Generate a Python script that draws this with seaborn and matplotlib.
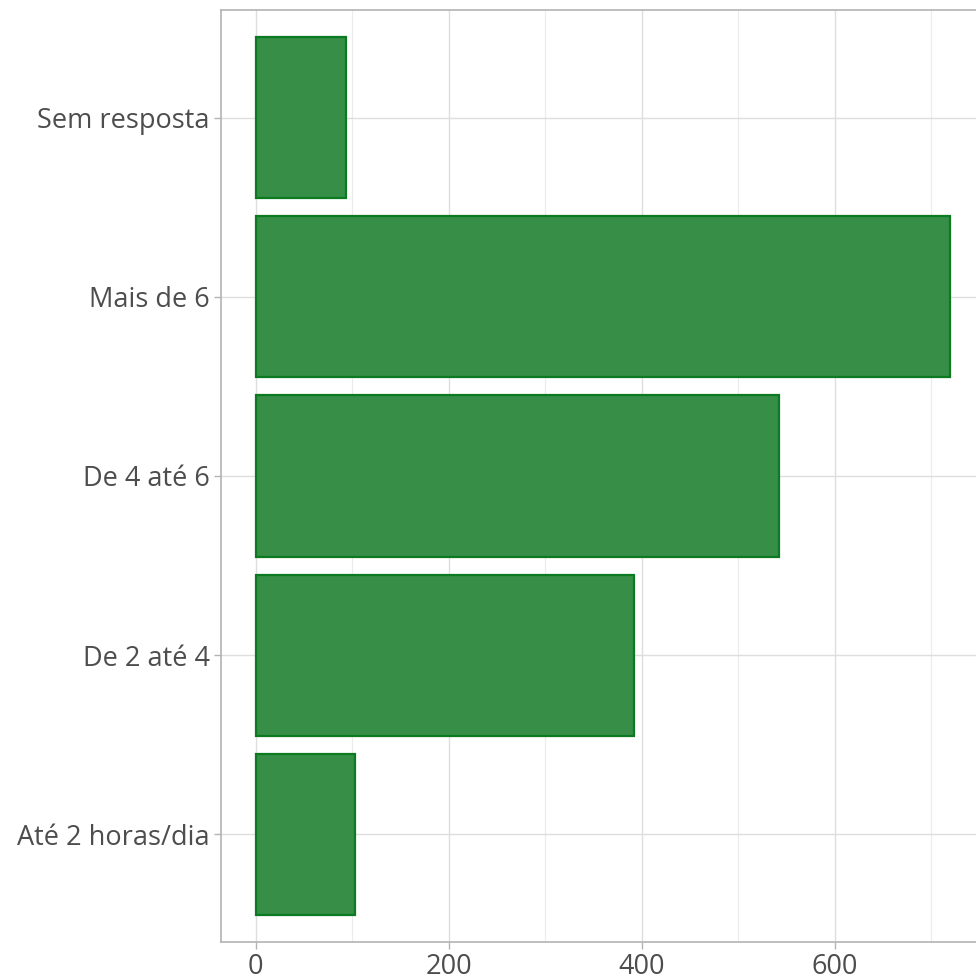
import matplotlib
matplotlib.use("Agg")
import matplotlib.pyplot as plt
from matplotlib.ticker import MultipleLocator
import seaborn as sns
import pandas as pd

categories = ["Sem resposta", "Mais de 6", "De 4 até 6", "De 2 até 4", "Até 2 horas/dia"]
counts = [94, 720, 542, 392, 103]
xticks = [0, 200, 400, 600]

df = pd.DataFrame({"cat": categories, "n": counts})

sns.set_style("white")
plt.rcParams["font.family"] = ["Open Sans", "DejaVu Sans"]

fig = plt.figure(figsize=(9.76, 9.75), dpi=100)
W, H = 976, 975
ax = fig.add_axes([221 / W, (H - 942) / H, (985 - 221) / W, (942 - 10) / H])

sns.barplot(data=df, x="n", y="cat", order=categories, orient="h", ax=ax,
            color="#378E47", saturation=1, edgecolor="#0B7A20", linewidth=1.6,
            width=0.9, zorder=3)

xmax = max(counts)
ax.set_xlim(-0.05 * xmax, 1.05 * xmax)
ax.set_ylim(len(categories) - 0.4, -0.6)
ax.set_xticks(xticks)
ax.xaxis.set_minor_locator(MultipleLocator(100))
ax.grid(True, which="major", color="#DEDEDE", linewidth=1.0, zorder=0)
ax.grid(True, which="minor", axis="x", color="#EBEBEB", linewidth=0.8, zorder=0)
ax.set_axisbelow(True)

for s in ["left", "bottom", "top"]:
    ax.spines[s].set_color("#B3B3B3")
    ax.spines[s].set_linewidth(1.2)
ax.spines["right"].set_visible(False)

ax.tick_params(axis="both", which="major", length=5, width=1.0, color="#B3B3B3",
               labelcolor="#4D4D4D", labelsize=19.5, pad=3)
ax.tick_params(axis="x", which="minor", length=0)
ax.tick_params(left=True, bottom=True)
ax.set_xlabel("")
ax.set_ylabel("")

fig.savefig("out.png", dpi=100)
